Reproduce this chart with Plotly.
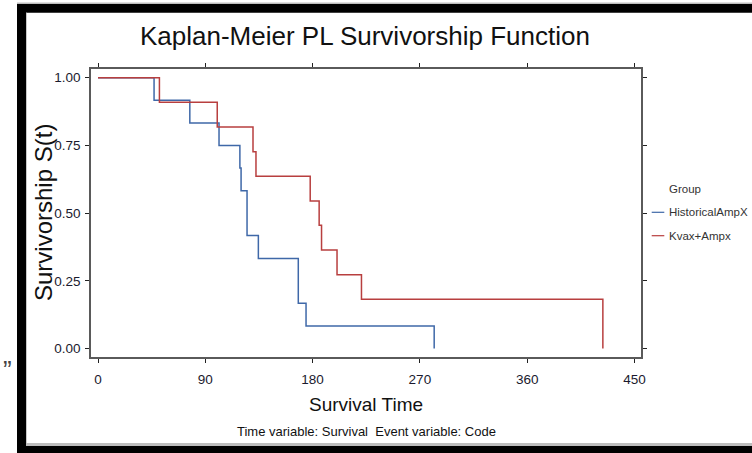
import plotly.graph_objects as go

# ---- data ----
groups = ["HistoricalAmpX", "Kvax+Ampx"]
hist_time = [0, 47, 77, 101.5, 119, 120, 125, 134.5, 168, 174.5, 282]
hist_surv = [1.0, 0.917, 0.833, 0.750, 0.667, 0.583, 0.417, 0.333, 0.167, 0.083, 0.0]
kvax_time = [0, 51.5, 100, 130, 132.5, 178, 185.5, 187.5, 200.5, 221, 423.5]
kvax_surv = [1.0, 0.909, 0.818, 0.727, 0.636, 0.545, 0.455, 0.364, 0.273, 0.182, 0.0]
x_ticks = [0, 90, 180, 270, 360, 450]
y_ticks = [0.0, 0.25, 0.5, 0.75, 1.0]
y_ticklabels = ["0.00", "0.25", "0.50", "0.75", "1.00"]

colors = ["#3f68a8", "#b83f3f"]
FONT = "Liberation Sans, Arial, sans-serif"

W, H = 752, 453
L, R, T, B = 91, 641, 69, 357


def px(x):
    return (x - L) / (R - L)


def py(y):
    return (B - y) / (B - T)


fig = go.Figure()
for name, t, s, c in [(groups[0], hist_time, hist_surv, colors[0]),
                      (groups[1], kvax_time, kvax_surv, colors[1])]:
    fig.add_trace(go.Scatter(x=t, y=s, mode="lines", name=name,
                             line=dict(color=c, width=1.5, shape="hv"),
                             showlegend=False))

axis_common = dict(showline=True, linecolor="#5a5a5a", linewidth=1.6,
                   mirror="ticks", ticks="outside", ticklen=4, tickwidth=1.2,
                   tickcolor="#222", showgrid=False, zeroline=False,
                   tickfont=dict(family=FONT, size=13.5, color="#1a1a2e"))

fig.update_xaxes(range=[-5.9, 455.5], tickvals=x_ticks,
                 ticktext=[str(v) for v in x_ticks], ticklabelstandoff=5,
                 **axis_common)
fig.update_yaxes(range=[-0.031, 1.032], tickvals=y_ticks,
                 ticktext=y_ticklabels, ticklabelstandoff=2, **axis_common)

ann = []
ann.append(dict(text="Kaplan-Meier PL Survivorship Function", x=px(365), y=py(36.5),
                font=dict(family=FONT, size=26, color="#111")))
ann.append(dict(text="Survival Time", x=px(366), y=py(404),
                font=dict(family=FONT, size=19, color="#111")))
ann.append(dict(text="Time variable: Survival&nbsp;&nbsp;Event variable: Code",
                x=px(366), y=py(431.5),
                font=dict(family=FONT, size=13, color="#111")))
ann.append(dict(text="Survivorship S(t)", x=px(43), y=py(212), textangle=-90,
                font=dict(family=FONT, size=24, color="#111")))
ann.append(dict(text="”", x=px(7), y=py(370),
                font=dict(family=FONT, size=26, color="#444")))

# legend
ann.append(dict(text="Group", x=px(667), y=py(189), xanchor="left",
                font=dict(family=FONT, size=11.5, color="#333")))
leg_y = [212.3, 235.7]
shapes = []
for name, c, yy in zip(groups, colors, leg_y):
    ann.append(dict(text=name, x=px(666.5), y=py(yy), xanchor="left",
                    font=dict(family=FONT, size=11.5, color="#333")))
    shapes.append(dict(type="line", xref="paper", yref="paper",
                       x0=px(651.7), x1=px(664.3), y0=py(yy), y1=py(yy),
                       line=dict(color=c, width=1.2)))

for a in ann:
    a.setdefault("xanchor", "center")
    a.update(xref="paper", yref="paper", yanchor="middle", showarrow=False)

# frame
def rect(x0, y0, x1, y1, color):
    return dict(type="rect", xref="paper", yref="paper", x0=px(x0), x1=px(x1),
                y0=py(y0), y1=py(y1), fillcolor=color, line=dict(width=0),
                layer="below")

shapes += [
    rect(17, 2.5, 752, 4, "#bdbdbd"),
    rect(17, 4, 752, 12.7, "#000"),
    rect(17, 4, 26, 453, "#000"),
    rect(26, 12.7, 27, 446, "#c8c8c8"),
    rect(26, 443, 752, 446, "#bdbdbd"),
    rect(17, 446, 752, 453, "#000"),
]

fig.update_layout(width=W, height=H, margin=dict(l=L, r=W - R, t=T, b=H - B),
                  paper_bgcolor="white", plot_bgcolor="white",
                  annotations=ann, shapes=shapes, showlegend=False)

fig.write_html("out.html", config={"displayModeBar": False},
               post_script="document.body.style.margin='0';document.body.style.overflow='hidden';")
